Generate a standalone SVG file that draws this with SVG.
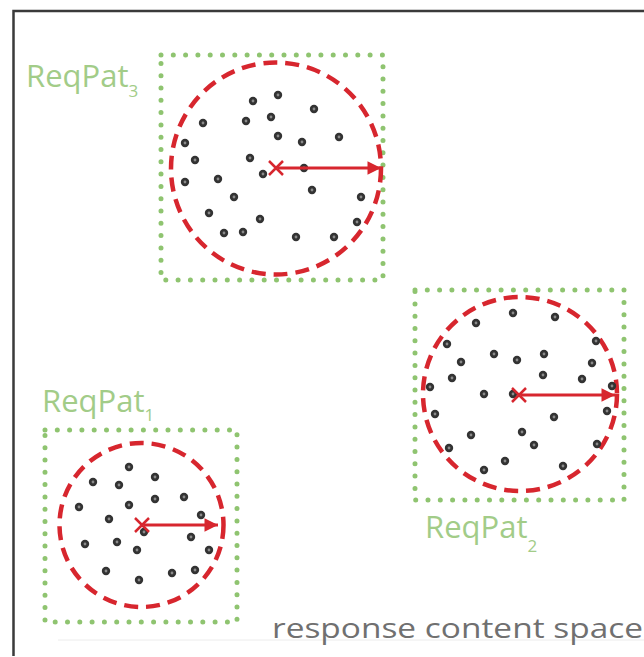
<svg xmlns="http://www.w3.org/2000/svg" width="644" height="657" viewBox="0 0 644 657">
<defs>
<style>
.frame{fill:none;stroke:#3a3a3a;stroke-width:2.5}
.box{fill:none;stroke:#8fc470;stroke-width:5;stroke-linecap:round;stroke-dasharray:0 12.3}
.circ{fill:none;stroke:#d7262e;stroke-width:4.5;stroke-dasharray:14 8}
.arr{stroke:#d7262e;stroke-width:3;fill:none}
.xm{stroke:#d7262e;stroke-width:2.5;fill:none}
.lbl{font-family:"Open Sans","Noto Sans",sans-serif;fill:#a2cc88;font-size:31px}
.sub{font-size:17px}
.dot{fill:#333}
.cap{font-family:"Open Sans","Noto Sans",sans-serif;fill:#707070;font-size:27px}
</style>
<g id="pt"><circle r="4.2" class="dot"/><circle r="1.4" fill="#8a8a8a"/></g>
<marker id="ah" viewBox="0 0 10 10" refX="10" refY="5" markerWidth="5.5" markerHeight="4.5" markerUnits="strokeWidth" orient="auto"><path d="M0,0 L10,5 L0,10 z" fill="#d7262e"/></marker>
</defs>
<rect x="0" y="0" width="644" height="657" fill="#fff"/>
<path class="frame" d="M13.5,656 V11 H644"/>
<path d="M58,640 H644" stroke="#ececec" stroke-width="1"/>

<g id="reqpat3">
<rect class="box" x="161" y="55" width="222" height="225"/>
<ellipse class="circ" cx="276" cy="168.5" rx="105" ry="106"/>
<text class="lbl" x="26" y="87">ReqPat<tspan class="sub" dy="10">3</tspan></text>
<g>
<use href="#pt" x="278" y="95"/><use href="#pt" x="253" y="101"/><use href="#pt" x="314" y="109"/><use href="#pt" x="203" y="123"/><use href="#pt" x="246" y="121"/><use href="#pt" x="271" y="117"/><use href="#pt" x="278" y="136"/><use href="#pt" x="302" y="142"/><use href="#pt" x="339" y="137"/><use href="#pt" x="185" y="143"/><use href="#pt" x="195" y="160"/><use href="#pt" x="250" y="158"/><use href="#pt" x="304" y="168"/><use href="#pt" x="263" y="174"/><use href="#pt" x="185" y="182"/><use href="#pt" x="218" y="179"/><use href="#pt" x="312" y="190"/><use href="#pt" x="234" y="197"/><use href="#pt" x="361" y="197"/><use href="#pt" x="209" y="213"/><use href="#pt" x="260" y="219"/><use href="#pt" x="357" y="222"/><use href="#pt" x="224" y="233"/><use href="#pt" x="243" y="232"/><use href="#pt" x="296" y="237"/><use href="#pt" x="334" y="237"/>
</g>
<path class="xm" d="M269,161 L283,175 M283,161 L269,175"/>
</g>

<g id="reqpat2">
<rect class="box" x="415" y="290" width="209" height="210"/>
<circle class="circ" cx="520" cy="394" r="97"/>
<text class="lbl" x="425" y="538">ReqPat<tspan class="sub" dy="14">2</tspan></text>
<g>
<use href="#pt" x="513" y="313"/><use href="#pt" x="555" y="317"/><use href="#pt" x="476" y="323"/><use href="#pt" x="447" y="344"/><use href="#pt" x="596" y="341"/><use href="#pt" x="494" y="354"/><use href="#pt" x="461" y="362"/><use href="#pt" x="517" y="360"/><use href="#pt" x="544" y="354"/><use href="#pt" x="592" y="363"/><use href="#pt" x="452" y="378"/><use href="#pt" x="543" y="375"/><use href="#pt" x="582" y="379"/><use href="#pt" x="430" y="387"/><use href="#pt" x="612" y="386"/><use href="#pt" x="484" y="394"/><use href="#pt" x="513" y="394"/><use href="#pt" x="435" y="414"/><use href="#pt" x="607" y="411"/><use href="#pt" x="554" y="417"/><use href="#pt" x="471" y="435"/><use href="#pt" x="522" y="432"/><use href="#pt" x="534" y="445"/><use href="#pt" x="449" y="448"/><use href="#pt" x="597" y="444"/><use href="#pt" x="505" y="461"/><use href="#pt" x="484" y="470"/><use href="#pt" x="563" y="466"/>
</g>
<path class="xm" d="M512,388 L526,402 M526,388 L512,402"/>
</g>

<g id="reqpat1">
<rect class="box" x="45" y="430" width="192" height="192"/>
<circle class="circ" cx="141.5" cy="525" r="82"/>
<text class="lbl" x="42" y="412">ReqPat<tspan class="sub" dy="9">1</tspan></text>
<g>
<use href="#pt" x="129" y="467"/><use href="#pt" x="155" y="477"/><use href="#pt" x="93" y="482"/><use href="#pt" x="119" y="485"/><use href="#pt" x="184" y="497"/><use href="#pt" x="155" y="499"/><use href="#pt" x="129" y="505"/><use href="#pt" x="79" y="507"/><use href="#pt" x="201" y="515"/><use href="#pt" x="109" y="519"/><use href="#pt" x="144" y="532"/><use href="#pt" x="191" y="537"/><use href="#pt" x="117" y="542"/><use href="#pt" x="85" y="544"/><use href="#pt" x="137" y="550"/><use href="#pt" x="209" y="550"/><use href="#pt" x="106" y="571"/><use href="#pt" x="195" y="570"/><use href="#pt" x="172" y="573"/><use href="#pt" x="139" y="580"/>
</g>
<path class="xm" d="M135,518 L149,532 M149,518 L135,532"/>
</g>

<g id="connectors">
<line class="arr" x1="278" y1="168" x2="381" y2="168" marker-end="url(#ah)"/>
<line class="arr" x1="521" y1="395" x2="615" y2="395" marker-end="url(#ah)"/>
<line class="arr" x1="144" y1="525" x2="218" y2="525" marker-end="url(#ah)"/>
</g>

<text class="cap" x="272" y="638" textLength="371" lengthAdjust="spacingAndGlyphs">response content space</text>
</svg>
